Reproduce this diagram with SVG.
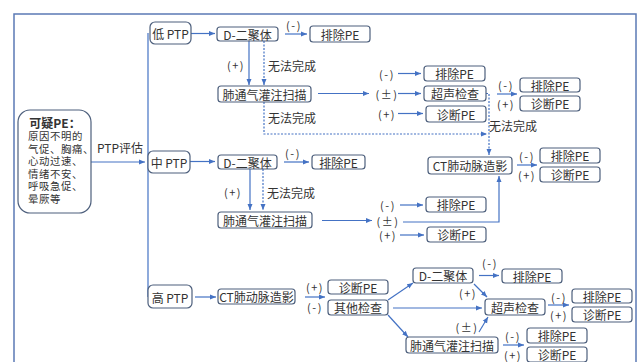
<svg xmlns="http://www.w3.org/2000/svg" width="640" height="362" viewBox="0 0 640 362">
<style>
text{font-family:"Noto Sans CJK SC","Noto Sans",sans-serif;fill:#333;dominant-baseline:central}
.t{font-size:12px;text-anchor:middle}
.l{font-size:11px;text-anchor:middle;letter-spacing:1.5px}
.n{font-size:12px;text-anchor:start}
.s{font-size:10.4px;text-anchor:start;letter-spacing:0.6px}
.b{fill:#fff;stroke:#4d5f7c;stroke-width:1.2}
.c{fill:none;stroke:#4472c4;stroke-width:1.2}
.a{marker-end:url(#ah)}
.d{stroke-dasharray:2 1.5}
</style>
<defs>
<marker id="ah" markerUnits="userSpaceOnUse" markerWidth="6" markerHeight="6" refX="6" refY="3" orient="auto">
<path d="M0,0.5 L6,3 L0,5.5 z" fill="#4472c4"/>
</marker>
</defs>
<rect x="14" y="14" width="622" height="362" fill="none" stroke="#5b7ab5" stroke-width="1.5"/>

<g id="connectors">
<path class="c a" d="M91,162 H145"/>
<path class="c" d="M148,33 V297"/>
<path class="c a" d="M191,33.5 H215"/>
<path class="c a" d="M285,34 H307"/>
<path class="c a" d="M249,41 V85"/>
<path class="c d a" d="M264,41 V85"/>
<path class="c a" d="M318,93.5 H369"/>
<path class="c a" d="M398,73.5 H421"/>
<path class="c a" d="M398,93.5 H421"/>
<path class="c a" d="M398,113.5 H423"/>
<path class="c a" d="M497,94 H517"/>
<path class="c d a" d="M486,93.5 H489 V155"/>
<path class="c d a" d="M264,102 V134 H487"/>
<path class="c a" d="M517,165 H537"/>
<path class="c a" d="M190,161.5 H215"/>
<path class="c a" d="M284,162 H309"/>
<path class="c a" d="M250,169 V210"/>
<path class="c d a" d="M263,169 V210"/>
<path class="c a" d="M322,220.5 H372"/>
<path class="c a" d="M400,205 H423"/>
<path class="c a" d="M400,235 H424"/>
<path class="c a" d="M403,222 H499 V176"/>
<path class="c a" d="M195,297 H216"/>
<path class="c a" d="M305,297 H325"/>
<path class="c a" d="M388,300 L413,283"/>
<path class="c a" d="M393,308 H482"/>
<path class="c a" d="M388,315 L408,337"/>
<path class="c a" d="M479,275.5 H499"/>
<path class="c a" d="M474,284 L487,297"/>
<path class="c a" d="M479,332 L488,317"/>
<path class="c a" d="M548,305 H569"/>
<path class="c a" d="M503,345 H524"/>
</g>

<g id="labels">
<text class="t" x="120" y="147">PTP评估</text>
<text class="l" x="294" y="25">(-)</text>
<text class="l" x="236" y="65">(+)</text>
<text class="n" x="268" y="65">无法完成</text>
<text class="l" x="387" y="73.5">(-)</text>
<text class="l" x="387" y="93.5">(±)</text>
<text class="l" x="387" y="113.5">(+)</text>
<text class="l" x="506" y="85">(-)</text>
<text class="l" x="506" y="104">(+)</text>
<text class="n" x="268" y="117">无法完成</text>
<text class="n" x="489" y="125">无法完成</text>
<text class="l" x="527" y="156">(-)</text>
<text class="l" x="527" y="175">(+)</text>
<text class="l" x="293" y="153">(-)</text>
<text class="l" x="233" y="192">(+)</text>
<text class="n" x="267" y="192">无法完成</text>
<text class="l" x="388" y="205">(-)</text>
<text class="l" x="388" y="221">(±)</text>
<text class="l" x="388" y="235">(+)</text>
<text class="l" x="315" y="287">(+)</text>
<text class="l" x="315" y="307">(-)</text>
<text class="l" x="490" y="263">(-)</text>
<text class="l" x="468" y="293">(+)</text>
<text class="l" x="467" y="327">(±)</text>
<text class="l" x="559" y="297">(-)</text>
<text class="l" x="559" y="315">(+)</text>
<text class="l" x="513" y="336">(-)</text>
<text class="l" x="513" y="355">(+)</text>
</g>

<g id="suspect"><rect class="b" x="18" y="110" width="73" height="103" rx="12"/>
<text class="t" x="55" y="122.5" style="font-weight:bold">可疑PE：</text>
<text class="s" x="28" y="135.5">原因不明的</text>
<text class="s" x="28" y="148">气促、胸痛、</text>
<text class="s" x="28" y="160.5">心动过速、</text>
<text class="s" x="28" y="173">情绪不安、</text>
<text class="s" x="28" y="185.5">呼吸急促、</text>
<text class="s" x="28" y="198">晕厥等</text>
</g>
<g id="lowPTP"><rect class="b" x="150" y="22" width="41" height="22" rx="5"/><text class="t" x="170.5" y="33">低 PTP</text></g>
<g id="midPTP"><rect class="b" x="148" y="151" width="42" height="22" rx="5"/><text class="t" x="169" y="162">中 PTP</text></g>
<g id="highPTP"><rect class="b" x="148" y="285" width="44" height="23" rx="5"/><text class="t" x="170" y="297">高 PTP</text></g>
<g id="ddimer1"><rect class="b" x="217" y="27" width="61" height="14" rx="3"/><text class="t" x="247.5" y="34">D-二聚体</text></g>
<g id="rule1"><rect class="b" x="310" y="26" width="60" height="16" rx="3"/><text class="t" x="340" y="34">排除PE</text></g>
<g id="vq1"><rect class="b" x="218" y="86" width="93" height="16" rx="3"/><text class="t" x="264.5" y="94">肺通气灌注扫描</text></g>
<g id="rule2"><rect class="b" x="424" y="66" width="61" height="15" rx="3"/><text class="t" x="454.5" y="73.5">排除PE</text></g>
<g id="us1"><rect class="b" x="424" y="86" width="62" height="15" rx="3"/><text class="t" x="455" y="93.5">超声检查</text></g>
<g id="dx1"><rect class="b" x="426" y="106" width="60" height="16" rx="3"/><text class="t" x="456" y="114">诊断PE</text></g>
<g id="rule3"><rect class="b" x="520" y="78" width="60" height="14" rx="3"/><text class="t" x="550" y="85">排除PE</text></g>
<g id="dx2"><rect class="b" x="520" y="96" width="60" height="15" rx="3"/><text class="t" x="550" y="103.5">诊断PE</text></g>
<g id="ct1"><rect class="b" x="428" y="157" width="84" height="17" rx="3"/><text class="t" x="470" y="165.5">CT肺动脉造影</text></g>
<g id="rule4"><rect class="b" x="540" y="148" width="60" height="15" rx="3"/><text class="t" x="570" y="155.5">排除PE</text></g>
<g id="dx3"><rect class="b" x="540" y="167" width="60" height="15" rx="3"/><text class="t" x="570" y="174.5">诊断PE</text></g>
<g id="ddimer2"><rect class="b" x="218" y="155" width="59" height="14" rx="3"/><text class="t" x="247.5" y="162">D-二聚体</text></g>
<g id="rule5"><rect class="b" x="312" y="155" width="53" height="14" rx="3"/><text class="t" x="338.5" y="162">排除PE</text></g>
<g id="vq2"><rect class="b" x="218" y="212" width="94" height="16" rx="3"/><text class="t" x="265" y="220">肺通气灌注扫描</text></g>
<g id="rule6"><rect class="b" x="426" y="197" width="60" height="15" rx="3"/><text class="t" x="456" y="204.5">排除PE</text></g>
<g id="dx4"><rect class="b" x="427" y="227" width="59" height="15" rx="3"/><text class="t" x="456.5" y="234.5">诊断PE</text></g>
<g id="ct2"><rect class="b" x="218" y="289" width="77" height="15" rx="3"/><text class="t" x="256.5" y="296.5">CT肺动脉造影</text></g>
<g id="dx5"><rect class="b" x="328" y="280" width="60" height="14" rx="3"/><text class="t" x="358" y="287">诊断PE</text></g>
<g id="other"><rect class="b" x="328" y="300" width="60" height="15" rx="3"/><text class="t" x="358" y="307.5">其他检查</text></g>
<g id="ddimer3"><rect class="b" x="413" y="268" width="60" height="15" rx="3"/><text class="t" x="443" y="275.5">D-二聚体</text></g>
<g id="rule7"><rect class="b" x="502" y="269" width="60" height="14" rx="3"/><text class="t" x="532" y="276">排除PE</text></g>
<g id="us2"><rect class="b" x="485" y="299" width="60" height="16" rx="3"/><text class="t" x="515" y="307">超声检查</text></g>
<g id="rule8"><rect class="b" x="572" y="289" width="60" height="14" rx="3"/><text class="t" x="602" y="296">排除PE</text></g>
<g id="dx6"><rect class="b" x="572" y="307" width="60" height="15" rx="3"/><text class="t" x="602" y="314.5">诊断PE</text></g>
<g id="vq3"><rect class="b" x="406" y="337" width="92" height="16" rx="3"/><text class="t" x="452" y="345">肺通气灌注扫描</text></g>
<g id="rule9"><rect class="b" x="527" y="328" width="60" height="15" rx="3"/><text class="t" x="557" y="335.5">排除PE</text></g>
<g id="dx7"><rect class="b" x="527" y="347" width="60" height="15" rx="3"/><text class="t" x="557" y="354.5">诊断PE</text></g>
</svg>
